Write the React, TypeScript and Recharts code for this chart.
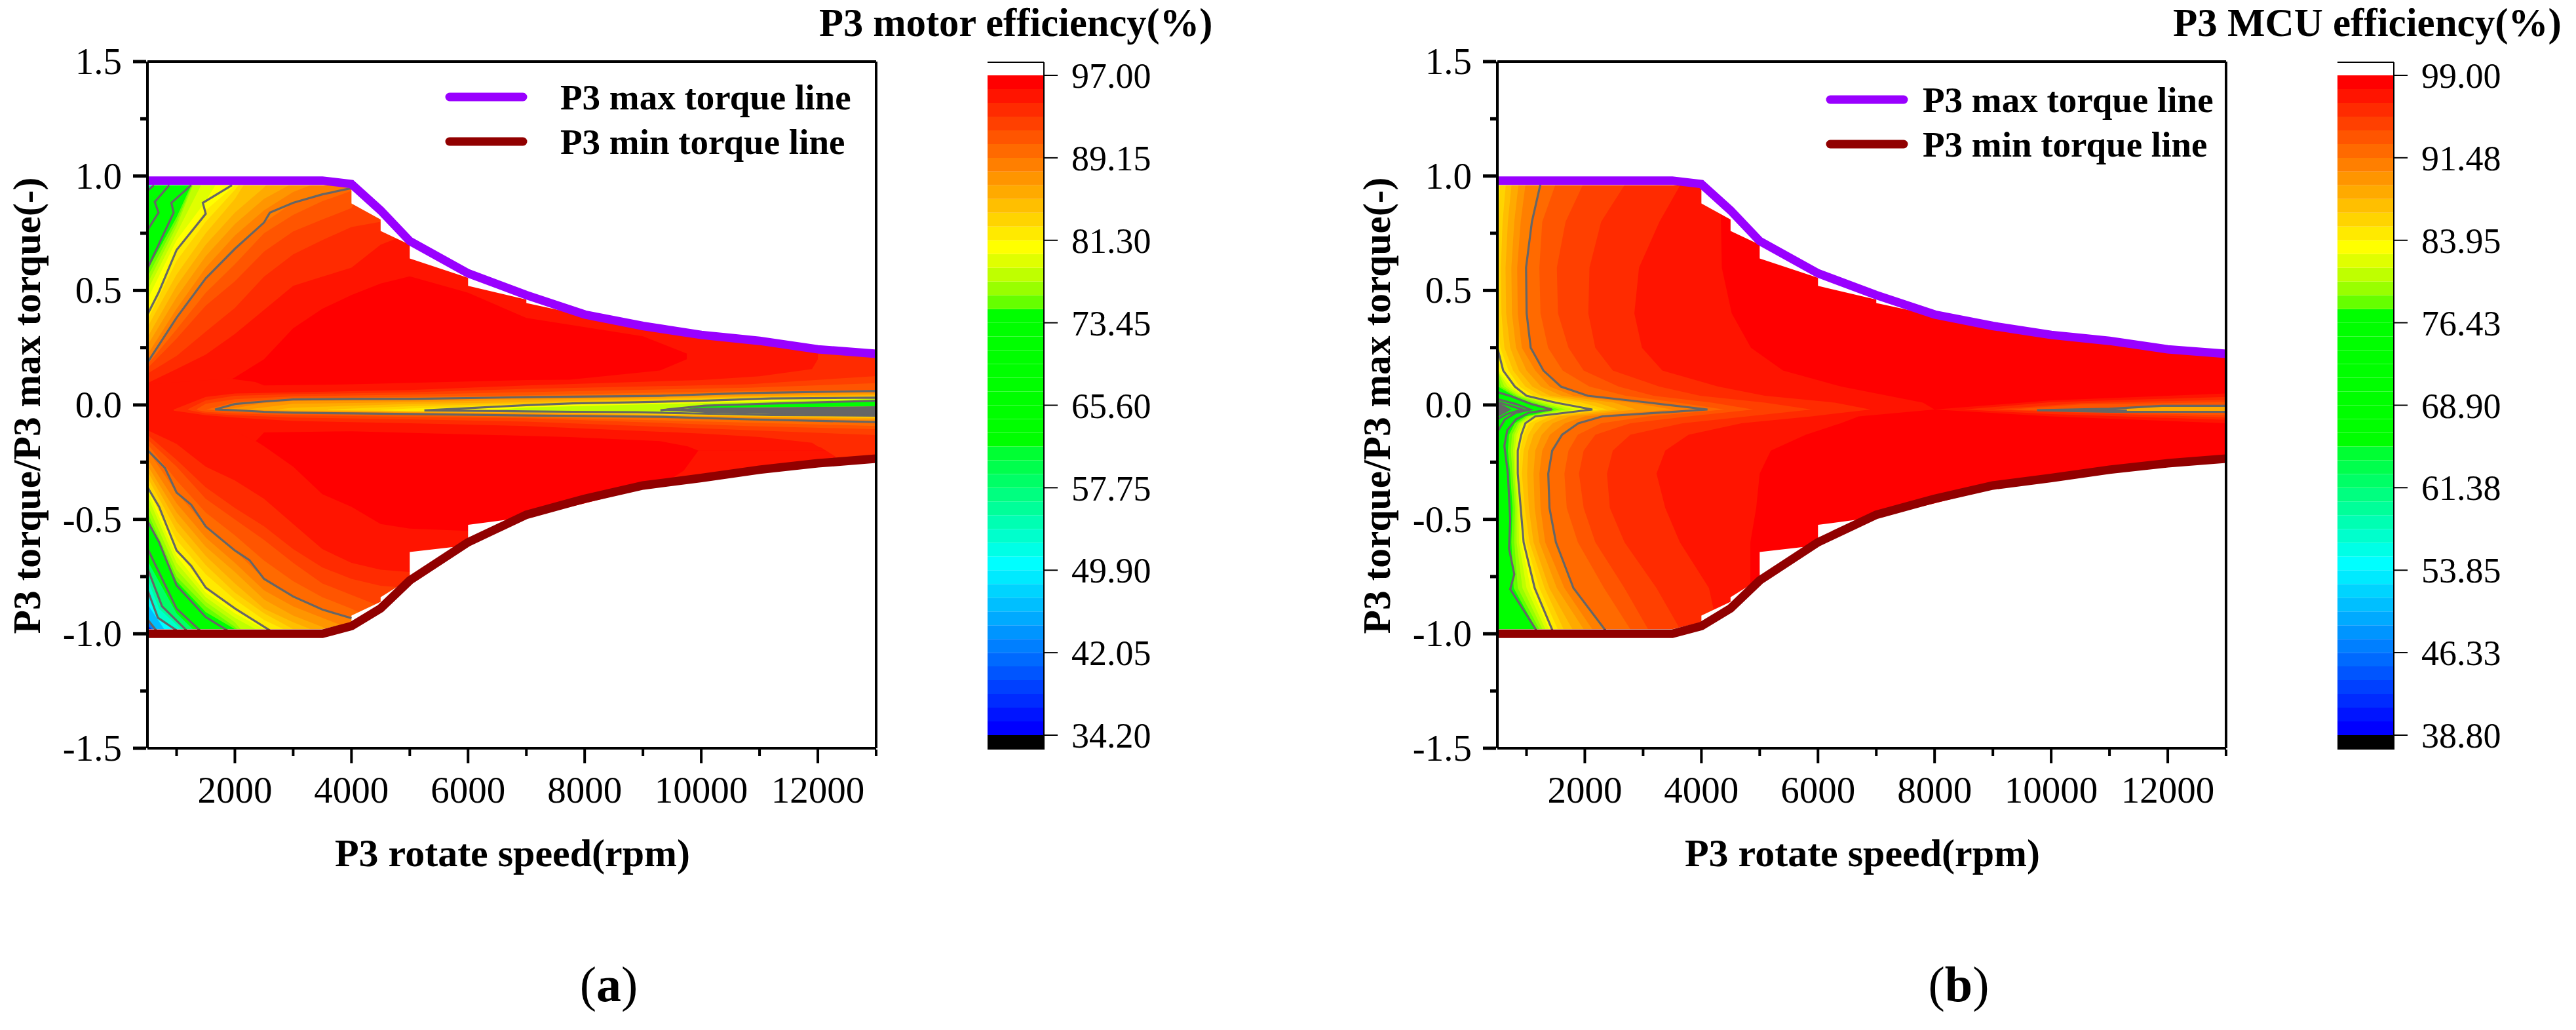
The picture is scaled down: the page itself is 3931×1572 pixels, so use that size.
import React from 'react';
import {
  Area,
  Bar,
  BarChart,
  ComposedChart,
  Legend,
  Line,
  ReferenceLine,
  XAxis,
  YAxis,
} from 'recharts';

const FONT = '"Liberation Serif", "Times New Roman", serif';
const GREY = '#666666';

// colour bar, top to bottom
const bandColors = [
  '#ff0000', '#ff1400', '#ff2b00', '#ff4000', '#ff5500', '#ff6a00', '#ff7f00', '#ff9500',
  '#ffaa00', '#ffbf00', '#ffd400', '#ffea00', '#ffff00', '#e0ff00', '#bfff00', '#99ff00',
  '#66ff00', '#00ff00', '#00ff00', '#00ff00', '#00ff00', '#00ff00', '#00ff00', '#00ff00',
  '#00ff00', '#00ff00', '#00ff00', '#00ff33', '#00ff4d', '#00ff66', '#00ff80', '#00ff99',
  '#00ffb3', '#00ffcc', '#00ffe6', '#00ffff', '#00eaff', '#00d4ff', '#00bfff', '#00aaff',
  '#0095ff', '#007fff', '#006aff', '#0055ff', '#0040ff', '#002bff', '#0014ff', '#0000ff',
];
const motorScaleTicks = [34.2, 42.05, 49.9, 57.75, 65.6, 73.45, 81.3, 89.15, 97];
const mcuScaleTicks = [38.8, 46.33, 53.85, 61.38, 68.9, 76.43, 83.95, 91.48, 99];

const speedTicks = [1000, 2000, 3000, 4000, 5000, 6000, 7000, 8000, 9000, 10000, 11000, 12000, 13000];
const torqueTicks = [-1.5, -1.25, -1, -0.75, -0.5, -0.25, 0, 0.25, 0.5, 0.75, 1, 1.25, 1.5];

// torque limit lines, [rpm, torque ratio]
const maxTorqueLine = [
  [500, 0.98], [3500, 0.98], [4000, 0.965], [4500, 0.85], [5000, 0.716], [6000, 0.575], [7000, 0.48],
  [8000, 0.395], [9000, 0.345], [10000, 0.306], [11000, 0.28], [12000, 0.243], [13000, 0.223],
];
const minTorqueLine = [
  [500, -1], [3500, -1], [4000, -0.966], [4500, -0.889], [5000, -0.767], [6000, -0.6], [7000, -0.48],
  [8000, -0.41], [9000, -0.352], [10000, -0.319], [11000, -0.283], [12000, -0.255], [13000, -0.235],
];

// edge of the filled map, with the white steps the map shows under the lines
const upperEdge = [
  [500, 1.5], [500, 0.96], [4000, 0.96], [4000, 0.88], [4500, 0.81], [4500, 0.76], [5000, 0.7], [5000, 0.64],
  [6000, 0.555], [6000, 0.52], [7000, 0.46], [7000, 0.445], [8000, 0.39], [9000, 0.34], [10000, 0.3],
  [11000, 0.27], [12000, 0.235], [13000, 0.21],
];
const lowerEdge = [
  [500, -1.5], [500, -0.98], [3500, -0.98], [4000, -0.95], [4000, -0.92], [4500, -0.86], [4500, -0.84],
  [5000, -0.76], [5000, -0.643], [6000, -0.613], [6000, -0.524], [7000, -0.49], [8000, -0.43], [9000, -0.365],
  [10000, -0.33], [11000, -0.295], [12000, -0.265], [13000, -0.245],
];

// ---- panel (a), motor efficiency ----
const motorSpeedGrid = [500, 1000, 1500, 2000, 2500, 3000, 3500, 4000, 4500, 5000, 6000, 7000, 8000, 9000, 10000, 11000, 12000, 13000];

// top edge of each colour band above zero torque (short rows keep their last value)
const motorUpper0 = [0.05, 0.05, 0.05, 0.12, 0.2, 0.335, 0.42, 0.48, 0.53, 0.562, 0.49, 0.38, 0.34, 0.3, 0.2, 0.1];
const motorUpper1 = [0.095, 0.157, 0.22, 0.31, 0.415, 0.52, 0.56, 0.6, 0.7, 0.75, 0.57, 0.47, 0.4, 0.36, 0.32, 0.3, 0.26, 0.23];
const motorUpper2 = [0.137, 0.214, 0.32, 0.424, 0.56, 0.658, 0.72, 0.777, 0.8, 1.1];
const motorUpper3 = [0.16, 0.29, 0.434, 0.54, 0.67, 0.758, 0.81, 0.86, 1.1];
const motorUpper4 = [0.176, 0.33, 0.49, 0.615, 0.75, 0.83, 0.89, 0.935, 1.1];
const motorUpper5 = [0.185, 0.381, 0.553, 0.682, 0.797, 0.883, 0.92, 0.947, 1.1];
const motorUpper6 = [0.22, 0.42, 0.6, 0.74, 0.85, 0.93, 0.98, 1.1];
const motorUpper7 = [0.26, 0.47, 0.65, 0.79, 0.9, 0.97, 1.1];
const motorUpper8 = [0.295, 0.52, 0.7, 0.84, 0.95, 1.1];
const motorUpper9 = [0.34, 0.57, 0.75, 0.9, 1.1];
const motorUpper10 = [0.37, 0.63, 0.8, 0.94, 1.1];
const motorUpper11 = [0.395, 0.677, 0.85, 0.96, 1.1];
const motorUpper12 = [0.46, 0.72, 0.89, 1.1];
const motorUpper13 = [0.5, 0.75, 1.0, 1.1];
const motorUpper14 = [0.53, 0.78, 1.1];
const motorUpper15 = [0.56, 0.8, 1.1];
const motorUpper16 = [0.59, 0.82, 1.1];
const motorUppers = [
  motorUpper16, motorUpper15, motorUpper14, motorUpper13, motorUpper12, motorUpper11, motorUpper10, motorUpper9,
  motorUpper8, motorUpper7, motorUpper6, motorUpper5, motorUpper4, motorUpper3, motorUpper2, motorUpper1, motorUpper0,
];

// same below zero torque
const motorLower0 = [-0.08, -0.08, -0.08, -0.1, -0.18, -0.27, -0.39, -0.445, -0.52, -0.54, -0.55, -0.7];
const motorLower1 = [-0.11, -0.17, -0.27, -0.33, -0.41, -0.52, -0.63, -0.69, -0.72, -0.73, -0.8];
const motorLower2 = [-0.13, -0.24, -0.36, -0.45, -0.53, -0.63, -0.71, -0.76, -0.79, -0.8];
const motorLower3 = [-0.15, -0.27, -0.41, -0.5, -0.59, -0.69, -0.78, -0.83, -0.88, -0.9];
const motorLower4 = [-0.17, -0.33, -0.47, -0.57, -0.68, -0.77, -0.84, -0.89, -0.95, -1];
const motorLower5 = [-0.197, -0.383, -0.531, -0.636, -0.76, -0.837, -0.894, -0.932, -1.1];
const motorLower6 = [-0.235, -0.43, -0.58, -0.69, -0.81, -0.88, -0.93, -0.98, -1.1];
const motorLower7 = [-0.264, -0.47, -0.62, -0.73, -0.85, -0.92, -0.97, -1.1];
const motorLower8 = [-0.29, -0.51, -0.66, -0.78, -0.89, -0.95, -1, -1.1];
const motorLower9 = [-0.316, -0.55, -0.7, -0.82, -0.91, -0.98, -1.1];
const motorLower10 = [-0.34, -0.59, -0.74, -0.85, -0.94, -1, -1.1];
const motorLower11 = [-0.359, -0.636, -0.798, -0.889, -0.966, -1.1];
const motorLower12 = [-0.373, -0.66, -0.82, -0.91, -0.98, -1.1];
const motorLower13 = [-0.397, -0.69, -0.84, -0.93, -1, -1.1];
const motorLower14 = [-0.436, -0.72, -0.86, -0.95, -1.1];
const motorLower15 = [-0.469, -0.75, -0.88, -0.97, -1.1];
const motorLower16 = [-0.493, -0.77, -0.905, -0.98, -1.1];
const motorLowers = [
  motorLower16, motorLower15, motorLower14, motorLower13, motorLower12, motorLower11, motorLower10, motorLower9,
  motorLower8, motorLower7, motorLower6, motorLower5, motorLower4, motorLower3, motorLower2, motorLower1, motorLower0,
];

// low-efficiency corners, [rpm, edge]
const motorCold29 = [[500, -0.68], [1000, -0.91], [1300, -0.985]];
const motorCold31 = [[500, -0.713], [750, -0.88], [1170, -0.985]];
const motorCold33 = [[500, -0.76], [700, -0.89], [1100, -0.985]];
const motorCold35 = [[500, -0.808], [680, -0.93], [1000, -0.985]];
const motorCold38 = [[500, -0.87], [800, -0.985]];
const motorCold41 = [[500, -0.937], [650, -0.985]];
const motorCold45 = [[500, -0.965], [600, -0.985]];
const motorColdTop = [[500, 0.935, 1], [610, 0.96, 1]];

// the low-load valley round zero torque, [rpm, low, high]
const motorValley1 = [[500, -0.1, 0.09], [1900, -0.1, 0.115], [2350, -0.16, 0.1], [2500, -0.12, 0.085], [4000, -0.115, 0.09], [7000, -0.135, 0.109], [7740, -0.14, 0.11], [9290, -0.158, 0.15], [9753, -0.18, 0.2], [9760, -0.18, 0.6], [9950, -0.2, 0.6], [13000, -0.2, 0.6]];
const motorCornerRight = [[9200, -0.7, -0.37], [9700, -0.7, -0.287], [9950, -0.7, -0.2], [13000, -0.7, -0.2]];
const motorValley2 = [[950, -0.025, -0.02], [1500, -0.045, 0.035], [2000, -0.055, 0.05], [3000, -0.07, 0.055], [5000, -0.08, 0.065], [7000, -0.092, 0.085], [10000, -0.125, 0.109], [11000, -0.14, 0.125], [11900, -0.165, 0.157], [12000, -0.182, 0.2], [12050, -0.185, 0.6], [12300, -0.225, 0.6], [12400, -0.5, 0.6], [13000, -0.5, 0.6]];
const motorValley3 = [[1200, -0.022, -0.018], [1500, -0.037, 0.02], [2000, -0.045, 0.04], [3000, -0.055, 0.047], [5000, -0.063, 0.055], [7000, -0.073, 0.07], [10800, -0.11, 0.09], [13000, -0.132, 0.126]];
const motorValley4 = [[1350, -0.022, -0.018], [1500, -0.03, 0.005], [2000, -0.037, 0.025], [3000, -0.045, 0.037], [5000, -0.052, 0.045], [7000, -0.058, 0.056], [10800, -0.092, 0.075], [13000, -0.106, 0.095]];
const motorValley5 = [[1520, -0.021, -0.019], [2000, -0.03, 0.012], [3000, -0.039, 0.03], [5000, -0.045, 0.035], [7000, -0.053, 0.042], [10800, -0.077, 0.061], [13000, -0.092, 0.066]];
const motorValley6 = [[1660, -0.02, -0.02], [2000, -0.023, 0.004], [2500, -0.03, 0.015], [3000, -0.034, 0.024], [4000, -0.037, 0.026], [5000, -0.04, 0.026], [7000, -0.046, 0.034], [9300, -0.052, 0.04], [10800, -0.063, 0.052], [13000, -0.075, 0.061]];
const motorValley7 = [[1850, -0.02, -0.02], [2500, -0.026, 0.008], [3000, -0.03, 0.018], [5000, -0.035, 0.02], [7000, -0.04, 0.028], [10800, -0.056, 0.047], [13000, -0.068, 0.054]];
const motorValley8 = [[2200, -0.02, -0.02], [3000, -0.027, 0.005], [5000, -0.032, 0.012], [7000, -0.036, 0.022], [10800, -0.052, 0.04], [13000, -0.062, 0.047]];
const motorValley9 = [[2700, -0.02, -0.02], [3000, -0.024, -0.012], [5000, -0.03, 0.004], [7000, -0.034, 0.012], [10800, -0.05, 0.036], [13000, -0.058, 0.042]];
const motorValley10 = [[3600, -0.022, -0.02], [5000, -0.028, -0.006], [7000, -0.032, 0.006], [10800, -0.048, 0.032], [13000, -0.054, 0.038]];
const motorValley11 = [[4500, -0.023, -0.022], [5000, -0.027, -0.016], [7000, -0.03, 0.002], [10800, -0.046, 0.03], [13000, -0.05, 0.035]];
const motorValley12 = [[5250, -0.024, -0.024], [7000, -0.028, -0.001], [7800, -0.03, 0.007], [8900, -0.032, 0.012], [10000, -0.038, 0.018], [11200, -0.044, 0.028], [13000, -0.047, 0.032]];
const motorValley14 = [[6300, -0.025, -0.025], [7000, -0.027, -0.011], [9000, -0.03, 0.002], [11000, -0.03, 0.015], [13000, -0.03, 0.027]];
const motorValley17 = [[9700, -0.02, -0.02], [10060, -0.012, -0.003], [11225, -0.01, 0.006], [13000, -0.006, 0.018]];
const motorValleyCore = [[9300, -0.024, -0.022], [10060, -0.034, -0.012], [11225, -0.04, -0.01], [13000, -0.049, -0.006]];

const motorContourUp1 = [[500, 0.185], [1000, 0.381], [1500, 0.553], [2000, 0.682], [2500, 0.797], [2600, 0.84], [3000, 0.883], [3500, 0.92], [4000, 0.947]];
const motorContourUp2 = [[500, 0.395], [690, 0.49], [1000, 0.677], [1500, 0.835], [1450, 0.883], [1950, 0.96]];
const motorContourUp3 = [[500, 0.596], [950, 0.84], [910, 0.883], [1250, 0.96]];
const motorContourUp4 = [[500, 0.763], [690, 0.84], [625, 0.887], [875, 0.96]];
const motorContourUp5 = [[500, 0.935], [610, 0.96]];
const motorContourLow1 = [[500, -0.197], [800, -0.275], [1000, -0.383], [1250, -0.436], [1500, -0.531], [2000, -0.636], [2250, -0.678], [2500, -0.76], [3000, -0.837], [3500, -0.894], [4000, -0.932]];
const motorContourLow2 = [[500, -0.359], [700, -0.445], [1000, -0.636], [1250, -0.703], [1500, -0.798], [2000, -0.889], [2600, -0.985]];
const motorContourLow3 = [[500, -0.507], [700, -0.6], [1000, -0.789], [1500, -0.927], [1870, -0.985]];
const motorContourLow4 = [[500, -0.627], [1000, -0.89], [1400, -0.985]];
const motorContourLow5 = [[500, -0.713], [750, -0.88], [1170, -0.985]];
const motorContourLow6 = [[500, -0.808], [680, -0.93], [1000, -0.985]];
const motorContourLow7 = [[500, -0.937], [650, -0.985]];
const motorContourCore = [[9300, -0.023], [10060, -0.003], [11225, 0.006], [13000, 0.018]];

// ---- panel (b), MCU efficiency: the bands run up and down, so speed is read per torque row ----
const mcuTorqueGrid = [0.98, 0.8, 0.6, 0.4, 0.25, 0.15, 0.08, 0.04, 0.01, -0.02, -0.05, -0.08, -0.13, -0.2, -0.3, -0.45, -0.6, -0.8, -1];

const mcuEdge0 = [4300, 4335, 4350, 4520, 4850, 5400, 6400, 7200, 7800, 8000, 6700, 6390, 5790, 5190, 5000, 4940, 4840, 4840, 4840];
const mcuEdge1 = [3680, 3280, 2930, 2850, 2980, 3330, 4290, 5090, 6290, 6900, 5890, 4690, 3780, 3380, 3230, 3380, 3630, 4130, 4300];
const mcuEdge2 = [2730, 2280, 2080, 2060, 2180, 2480, 3280, 3980, 5090, 5890, 4790, 3680, 2780, 2480, 2380, 2430, 2680, 3230, 3680];
const mcuEdge3 = [2000, 1670, 1520, 1540, 1720, 1980, 2580, 3180, 4180, 4890, 3780, 2780, 2180, 1980, 1900, 1980, 2180, 2680, 3130];
const mcuEdge4 = [1520, 1270, 1220, 1240, 1370, 1620, 2080, 2700, 3600, 4390, 3080, 2280, 1880, 1720, 1650, 1690, 1880, 2330, 2830];
const mcuEdge5 = [1253, 1092, 992, 1002, 1072, 1290, 1590, 2050, 3100, 4104, 2300, 1890, 1610, 1440, 1373, 1394, 1504, 1805, 2398];
const mcuEdge6 = [990, 900, 840, 850, 920, 1150, 1400, 1800, 2800, 3500, 2000, 1660, 1400, 1270, 1220, 1240, 1320, 1650, 2180];
const mcuEdge7 = [870, 790, 740, 750, 820, 1000, 1250, 1600, 2500, 2880, 1750, 1450, 1260, 1150, 1120, 1140, 1220, 1520, 2030];
const mcuEdge8 = [750, 680, 640, 650, 720, 870, 1100, 1400, 2200, 2580, 1550, 1280, 1120, 1030, 1010, 1040, 1120, 1390, 1830];
const mcuEdge9 = [650, 590, 560, 570, 620, 770, 980, 1250, 1950, 2380, 1400, 1150, 1030, 950, 920, 970, 1050, 1310, 1670];
const mcuEdge10 = [550, 520, 500, 500, 550, 690, 880, 1120, 1700, 2230, 1280, 1050, 950, 890, 870, 910, 990, 1220, 1570];
const mcuEdge11 = [500, 500, 500, 500, 500, 600, 800, 1000, 1500, 2130, 1150, 980, 910, 850, 850, 900, 950, 1140, 1470];
const mcuEdge12 = [500, 500, 500, 500, 500, 520, 740, 960, 1430, 1980, 1170, 960, 870, 830, 830, 880, 910, 1070, 1420];
const mcuEdge13 = [500, 500, 500, 500, 500, 500, 680, 920, 1350, 1830, 1120, 920, 830, 800, 810, 860, 870, 1000, 1360];
const mcuEdge14 = [500, 500, 500, 500, 500, 500, 620, 870, 1250, 1670, 1070, 880, 790, 770, 790, 830, 830, 930, 1310];
const mcuEdge15 = [500, 500, 500, 500, 500, 500, 560, 830, 1150, 1570, 1020, 850, 750, 730, 760, 800, 790, 850, 1260];
const mcuEdge16 = [500, 500, 500, 500, 500, 500, 510, 780, 1050, 1480, 980, 800, 700, 680, 720, 760, 740, 780, 1210];
const mcuEdges = [
  mcuEdge16, mcuEdge15, mcuEdge14, mcuEdge13, mcuEdge12, mcuEdge11, mcuEdge10, mcuEdge9,
  mcuEdge8, mcuEdge7, mcuEdge6, mcuEdge5, mcuEdge4, mcuEdge3, mcuEdge2, mcuEdge1, mcuEdge0,
];

// valley opening towards top speed, [torque, rpm]
const mcuRight1 = [[0.05, 13000], [0.02, 10000], [-0.02, 8000], [-0.05, 10000], [-0.08, 13000]];
const mcuRight2 = [[0.035, 13000], [0.012, 10000], [-0.02, 8500], [-0.04, 10000], [-0.065, 13000]];
const mcuRight3 = [[0.022, 13000], [0.008, 10500], [-0.02, 9000], [-0.034, 10500], [-0.055, 13000]];
const mcuRight4 = [[0.012, 13000], [0.002, 10500], [-0.02, 9300], [-0.03, 10500], [-0.045, 13000]];
const mcuRight6 = [[-0.004, 13000], [-0.004, 11900], [-0.017, 11000], [-0.023, 9757], [-0.03, 11000], [-0.03, 13000]];
const mcuRightCore = [[-0.02, 11000], [-0.023, 9757], [-0.027, 11000]];
const mcuStarCore = [[0.012, 500], [-0.02, 740], [-0.053, 500]];

const mcuContourLeft3 = [[500, 0.056], [744, 0.037], [1081, 0.004], [1437, -0.02], [1040, -0.034], [819, -0.063], [669, -0.111], [620, -0.178], [680, -0.3], [720, -0.5], [700, -0.627], [790, -0.74], [720, -0.805], [1170, -0.985]];
const mcuContourLeft4 = [[500, 0.025], [819, 0.004], [1062, -0.02], [819, -0.034], [631, -0.063], [519, -0.11]];
const mcuContourLeft5 = [[500, 0.013], [931, -0.02], [669, -0.039], [500, -0.063]];

function rowsFromGrid(values: number[], base: number) {
  return motorSpeedGrid.map((x, i) => {
    const y = i < values.length ? values[i] : values[values.length - 1];
    return { x, band: base > y ? [y, base] : [base, y] };
  });
}

const pairRows = (pairs: number[][]) => pairs.map(([x, y]) => ({ x, y }));
const valleyRows = (rows: number[][]) => rows.map(([x, lo, hi]) => ({ x, band: [lo, hi] }));
const valleyOutline = (rows: number[][]) => [
  ...rows.map(([x, , hi]) => ({ x, y: hi })),
  ...[...rows].reverse().map(([x, lo]) => ({ x, y: lo })),
];
const torqueRows = (rows: number[][]) => rows.map(([y, x]) => ({ y, x }));

function SpeedTick({ x, y, payload }: any) {
  const major = payload.value % 2000 === 0;
  return (
    <g>
      <line x1={x} x2={x} y1={y} y2={y + (major ? 21 : 10)} stroke="#000" strokeWidth={4} />
      {major && (
        <text x={x} y={y + 81} textAnchor="middle" fontFamily={FONT} fontSize={57} fill="#000">
          {payload.value}
        </text>
      )}
    </g>
  );
}

function TorqueTick({ x, y, payload }: any) {
  const major = Math.abs(payload.value * 2 - Math.round(payload.value * 2)) < 0.001;
  return (
    <g>
      <line x1={x} x2={x - (major ? 20 : 9)} y1={y} y2={y} stroke="#000" strokeWidth={5} />
      {major && (
        <text x={x - 37} y={y + 19} textAnchor="end" fontFamily={FONT} fontSize={57} fill="#000">
          {payload.value.toFixed(1)}
        </text>
      )}
    </g>
  );
}

function legendContent(lineX: number, textX: number, offsets: number[]) {
  return ({ payload }: any) => {
    const rows = (payload || []).filter((p: any) => String(p.value).includes('torque line'));
    return (
      <svg width={1400} height={300} style={{ display: 'block' }}>
        {rows.map((p: any, i: number) => (
          <g key={p.value}>
            <line x1={lineX + 6} x2={lineX + 118} y1={offsets[i]} y2={offsets[i]} stroke={p.color} strokeWidth={13} strokeLinecap="round" />
            <text x={textX} y={offsets[i] + 19} fontFamily={FONT} fontWeight="bold" fontSize={55} fill="#000">
              {p.value}
            </text>
          </g>
        ))}
      </svg>
    );
  };
}

function panelText(label: string) {
  return [
    <text key="ytitle" transform="translate(61,619) rotate(-90)" textAnchor="middle" fontFamily={FONT} fontWeight="bold" fontSize={59.5} fill="#000">
      P3 torque/P3 max torque(-)
    </text>,
    <text key="xtitle" x={782} y={1322} textAnchor="middle" fontFamily={FONT} fontWeight="bold" fontSize={60} fill="#000">
      P3 rotate speed(rpm)
    </text>,
    <text key="panel" x={929} y={1528} textAnchor="middle" fontFamily={FONT} fontSize={76} fill="#000">
      (<tspan fontWeight="bold">{label}</tspan>)
    </text>,
  ];
}

const chartMargin = { top: 94, right: 63, bottom: 0, left: 0 };
const frameLine = { stroke: '#000', strokeWidth: 4 };

function area(key: string, rows: any[], fill: string) {
  return (
    <Area
      key={key}
      data={rows}
      dataKey="band"
      type="linear"
      fill={fill}
      fillOpacity={1}
      stroke="none"
      dot={false}
      activeDot={false}
      legendType="none"
      isAnimationActive={false}
    />
  );
}

function contour(key: string, rows: any[], dataKey: string) {
  return (
    <Line
      key={key}
      data={rows}
      dataKey={dataKey}
      type="linear"
      stroke={GREY}
      strokeWidth={3.2}
      dot={false}
      activeDot={false}
      legendType="none"
      isAnimationActive={false}
    />
  );
}

function MotorPanel() {
  const up = [motorContourUp1, motorContourUp2, motorContourUp3, motorContourUp4, motorContourUp5];
  const low = [motorContourLow1, motorContourLow2, motorContourLow3, motorContourLow4, motorContourLow5, motorContourLow6, motorContourLow7];
  const cold: [number, number[][]][] = [[29, motorCold29], [31, motorCold31], [33, motorCold33], [35, motorCold35], [38, motorCold38], [41, motorCold41], [45, motorCold45]];
  const valley: [number, number[][]][] = [
    [1, motorValley1], [1, motorCornerRight], [2, motorValley2], [3, motorValley3], [4, motorValley4], [5, motorValley5], [6, motorValley6],
    [7, motorValley7], [8, motorValley8], [9, motorValley9], [10, motorValley10], [11, motorValley11], [12, motorValley12],
    [14, motorValley14], [17, motorValley17],
  ];
  return (
    <ComposedChart width={1400} height={1572} margin={chartMargin}>
      <XAxis type="number" dataKey="x" domain={[500, 13000]} ticks={speedTicks} interval={0} height={430} tickSize={0} tickLine={false} axisLine={frameLine} tick={(p: any) => <SpeedTick {...p} />} />
      <YAxis type="number" domain={[-1.5, 1.5]} ticks={torqueTicks} interval={0} width={225} tickSize={0} tickLine={false} axisLine={frameLine} tick={(p: any) => <TorqueTick {...p} />} />
      {area('base', [{ x: 500, band: [-1, 1] }, { x: 13000, band: [-1, 1] }], '#00ff00')}
      {motorUppers.map((row, i) => area(`up${i}`, rowsFromGrid(row, -0.02), bandColors[16 - i]))}
      {motorLowers.map((row, i) => area(`low${i}`, rowsFromGrid(row, -0.02), bandColors[16 - i]))}
      {area('coldTop', valleyRows(motorColdTop), '#00ff80')}
      {cold.map(([c, pts]) => area(`cold${c}`, pts.map(([x, y]) => ({ x, band: [-1, y] })), bandColors[c]))}
      {valley.map(([c, rows], i) => area(`valley${i}`, valleyRows(rows), bandColors[c]))}
      {area('core', valleyRows(motorValleyCore), GREY)}
      {area('maskTop', upperEdge.map(([x, y]) => ({ x, band: [y, 1.5] })), '#ffffff')}
      {area('maskLow', lowerEdge.map(([x, y]) => ({ x, band: [-1.5, y] })), '#ffffff')}
      {up.map((pts, i) => contour(`cu${i}`, pairRows(pts), 'y'))}
      {low.map((pts, i) => contour(`cl${i}`, pairRows(pts), 'y'))}
      {contour('vk5', valleyOutline(motorValley6), 'y')}
      {contour('vk11', valleyOutline(motorValley12), 'y')}
      {contour('vcore', pairRows(motorContourCore), 'y')}
      <Line name="P3 max torque line" data={pairRows(maxTorqueLine)} dataKey="y" type="linear" stroke="#9900ff" strokeWidth={13} strokeLinejoin="miter" dot={false} activeDot={false} isAnimationActive={false} />
      <Line name="P3 min torque line" data={pairRows(minTorqueLine)} dataKey="y" type="linear" stroke="#910000" strokeWidth={13} strokeLinejoin="miter" dot={false} activeDot={false} isAnimationActive={false} />
      <ReferenceLine y={1.5} stroke="#000" strokeWidth={4} />
      <ReferenceLine x={13000} stroke="#000" strokeWidth={4} />
      <Legend layout="vertical" align="center" verticalAlign="middle" wrapperStyle={{ left: 0, top: 0, width: 1400, height: 300 }} content={legendContent(680, 855, [148, 216])} />
      {panelText('a')}
    </ComposedChart>
  );
}

function McuPanel() {
  const mask = (edge: number[][]) => edge.map(([x, y]) => ({ y, band: [x, 13000] }));
  const right: [number, number[][]][] = [[1, mcuRight1], [2, mcuRight2], [3, mcuRight3], [4, mcuRight4], [8, mcuRight6]];
  return (
    <ComposedChart layout="vertical" width={1400} height={1572} margin={chartMargin}>
      <XAxis type="number" domain={[500, 13000]} ticks={speedTicks} interval={0} height={430} tickSize={0} tickLine={false} axisLine={frameLine} tick={(p: any) => <SpeedTick {...p} />} />
      <YAxis type="number" dataKey="y" reversed domain={[-1.5, 1.5]} ticks={torqueTicks} interval={0} width={225} tickSize={0} tickLine={false} axisLine={frameLine} tick={(p: any) => <TorqueTick {...p} />} />
      {area('base', [{ y: 1, band: [500, 13000] }, { y: -1, band: [500, 13000] }], '#00ff00')}
      {mcuEdges.map((row, i) => area(`edge${i}`, mcuTorqueGrid.map((y, j) => ({ y, band: [row[j], 13000] })), bandColors[16 - i]))}
      {right.map(([c, rows]) => area(`right${c}`, rows.map(([y, x]) => ({ y, band: [x, 13000] })), bandColors[c]))}
      {area('rightCore', mcuRightCore.map(([y, x]) => ({ y, band: [x, 11300] })), GREY)}
      {area('star', mcuStarCore.map(([y, x]) => ({ y, band: [500, x] })), GREY)}
      {area('maskTop', mask(upperEdge), '#ffffff')}
      {area('maskLow', mask(lowerEdge), '#ffffff')}
      {contour('k5', mcuTorqueGrid.map((y, j) => ({ y, x: mcuEdge5[j] })), 'x')}
      {contour('k11', mcuTorqueGrid.slice(4).map((y, j) => ({ y, x: mcuEdge11[j + 4] })), 'x')}
      {contour('l3', mcuContourLeft3.map(([x, y]) => ({ x, y })), 'x')}
      {contour('l4', mcuContourLeft4.map(([x, y]) => ({ x, y })), 'x')}
      {contour('l5', mcuContourLeft5.map(([x, y]) => ({ x, y })), 'x')}
      {contour('r6', torqueRows(mcuRight6), 'x')}
      <Line name="P3 max torque line" data={pairRows(maxTorqueLine)} dataKey="x" type="linear" stroke="#9900ff" strokeWidth={13} strokeLinejoin="miter" dot={false} activeDot={false} isAnimationActive={false} />
      <Line name="P3 min torque line" data={pairRows(minTorqueLine)} dataKey="x" type="linear" stroke="#910000" strokeWidth={13} strokeLinejoin="miter" dot={false} activeDot={false} isAnimationActive={false} />
      <ReferenceLine y={1.5} stroke="#000" strokeWidth={4} />
      <ReferenceLine x={13000} stroke="#000" strokeWidth={4} />
      <Legend layout="vertical" align="center" verticalAlign="middle" wrapperStyle={{ left: 0, top: 0, width: 1400, height: 300 }} content={legendContent(727, 874, [152, 220])} />
      {panelText('b')}
    </ComposedChart>
  );
}

function ColorBar({ ticks, title, titleX, titleSize }: { ticks: number[]; title: string; titleX: number; titleSize: number }) {
  const min = ticks[0];
  const max = ticks[ticks.length - 1];
  const pxPerUnit = (1122 - 115) / (max - min);
  const domain = [min - 22 / pxPerUnit, max + 20 / pxPerUnit];
  const step = (max - min) / bandColors.length;
  const row: Record<string, number | string> = { name: 'scale', black: min, white: domain[1] - max };
  bandColors.forEach((_, i) => {
    row[`band${i}`] = step;
  });
  return (
    <BarChart width={700} height={1220} data={[row]} barCategoryGap={0} margin={{ top: 95, right: 0, bottom: 76, left: 300 }}>
      <XAxis dataKey="name" hide />
      <YAxis yAxisId="frame" orientation="left" width={0} domain={domain} allowDataOverflow tick={false} tickLine={false} axisLine={frameLine} />
      <YAxis
        yAxisId="scale"
        orientation="right"
        width={314}
        type="number"
        domain={domain}
        allowDataOverflow
        ticks={ticks}
        interval={0}
        tickSize={21}
        tickMargin={21}
        tickFormatter={(v: number) => v.toFixed(2)}
        tickLine={{ stroke: '#000', strokeWidth: 2 }}
        axisLine={{ stroke: '#000', strokeWidth: 2 }}
        tick={{ fontFamily: FONT, fontSize: 54, fill: '#000' }}
      />
      <Bar yAxisId="scale" stackId="s" dataKey="black" fill="#000" isAnimationActive={false} />
      {[...bandColors].reverse().map((c, i) => (
        <Bar key={i} yAxisId="scale" stackId="s" dataKey={`band${bandColors.length - 1 - i}`} fill={c} isAnimationActive={false} />
      ))}
      <Bar yAxisId="scale" stackId="s" dataKey="white" fill="#fff" isAnimationActive={false} />
      <ReferenceLine yAxisId="scale" y={domain[1]} stroke="#000" strokeWidth={2} />
      <text x={titleX} y={55} fontFamily={FONT} fontWeight="bold" fontSize={titleSize} fill="#000">
        {title}
      </text>
    </BarChart>
  );
}

export default function App() {
  const at = (left: number): React.CSSProperties => ({ position: 'absolute', left, top: 0 });
  return (
    <div style={{ position: 'absolute', left: 0, top: 0, width: 3931, height: 1572, background: '#fff', overflow: 'hidden' }}>
      <div style={at(0)}><MotorPanel /></div>
      <div style={at(1207)}><ColorBar ticks={motorScaleTicks} title="P3 motor efficiency(%)" titleX={43} titleSize={60.5} /></div>
      <div style={at(2060)}><McuPanel /></div>
      <div style={at(3267)}><ColorBar ticks={mcuScaleTicks} title="P3 MCU efficiency(%)" titleX={49} titleSize={61} /></div>
    </div>
  );
}
